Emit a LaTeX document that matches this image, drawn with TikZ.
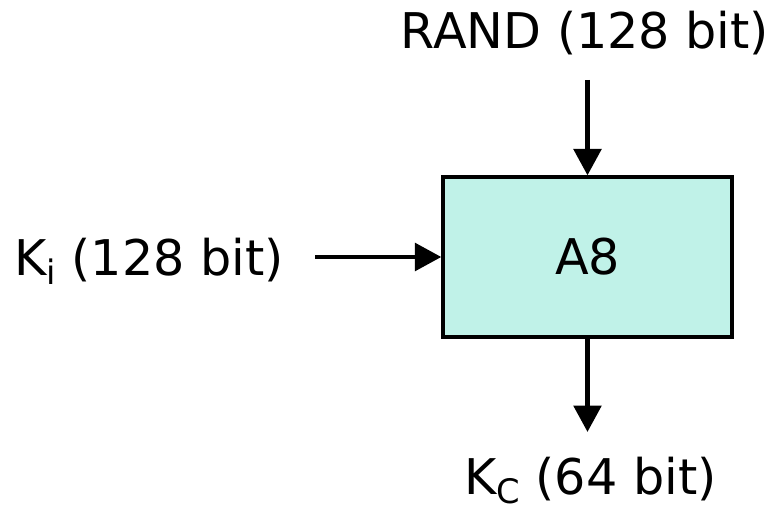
\documentclass[tikz,border=0pt]{standalone}
\usepackage{fontspec}
\setmainfont{DejaVu Sans}
\usetikzlibrary{arrows.meta}
\definecolor{boxcyan}{RGB}{192,242,232}
\newcommand{\lowidx}[1]{\raisebox{-0.24cm}{\fontsize{24}{24}\selectfont #1}}

\begin{document}
\begin{tikzpicture}[
	txt/.style={ inner sep=0pt, font=\fontsize{35}{40}\selectfont },
	block/.style={ draw, line width=2.3pt, fill=boxcyan, minimum width=7.225cm, minimum height=4cm, inner sep=0pt, font=\fontsize{35}{40}\selectfont },
	arr/.style={ -{Triangle[length=0.66cm,width=0.68cm]}, line width=3.5pt }
]

\useasboundingbox (0,0) rectangle (19.275,12.75);

\node at (14.6875,6.325) (a8) [block] {A8};
\node at (14.625,11.525) (rand) [txt,anchor=base] {RAND (128 bit)};
\node at (0.35,5.875) (ki) [txt,anchor=base west] {K\lowidx{i} (128 bit)};
\node at (11.6,0.4) (kc) [txt,anchor=base west] {K\lowidx{C} (64 bit)};

\coordinate (randend) at (14.6875,10.75);
\coordinate (kiend) at (7.875,6.325);
\coordinate (kcend) at (14.6875,1.95);

\draw[arr] (randend) -- (a8.north);
\draw[arr] (kiend) -- (a8.west);
\draw[arr] (a8.south) -- (kcend);

\end{tikzpicture}
\end{document}
